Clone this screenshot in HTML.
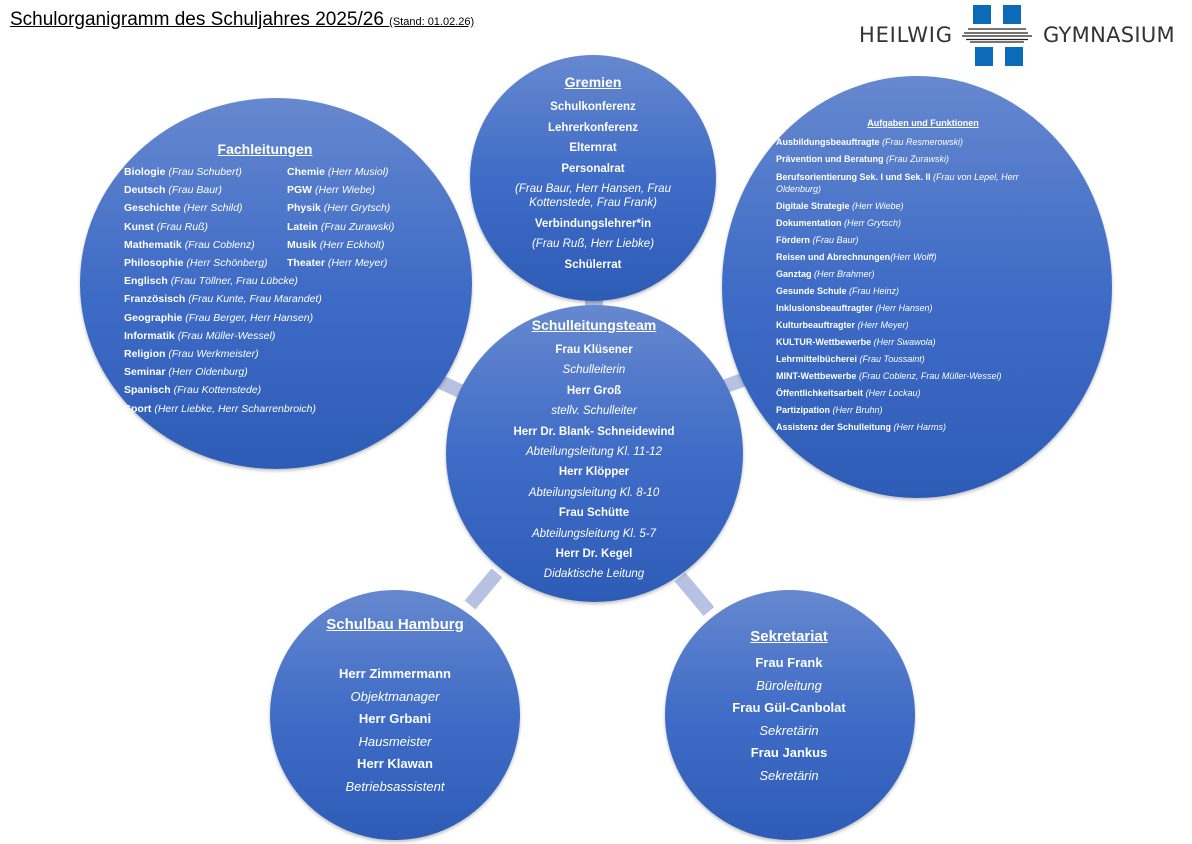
<!DOCTYPE html>
<html><head><meta charset="utf-8"><style>
body{margin:0;width:1192px;height:844px;background:#fff;position:relative;overflow:hidden;font-family:"Liberation Sans Narrow","Liberation Sans",sans-serif;}
.c{position:absolute;border-radius:50%;background:linear-gradient(180deg,#6688cf 0%,#3f6cc6 50%,#2d5cb7 100%);box-shadow:0 2px 3px rgba(0,0,0,.25);}
.t{position:absolute;color:#fff;font-weight:bold;white-space:nowrap;}
.t i{font-weight:normal;}
.ctr{text-align:center;transform:translateX(-50%);}
.u{text-decoration:underline;}
.bar{position:absolute;height:14px;background:#b7c2e2;transform-origin:0 50%;}
</style></head><body>
<div style="position:absolute;left:10px;top:9px;font-family:'Liberation Sans',sans-serif;font-size:19px;text-decoration:underline;color:#000;white-space:nowrap">Schulorganigramm des Schuljahres 2025/26 <span style="font-size:11px">(Stand: 01.02.26)</span></div>
<!-- logo -->
<div style="position:absolute;left:859px;top:23px;font-family:'DejaVu Sans','Liberation Sans',sans-serif;font-size:21px;color:#333;letter-spacing:0.8px">HEILWIG</div>
<div style="position:absolute;left:1043px;top:23px;font-family:'DejaVu Sans','Liberation Sans',sans-serif;font-size:21px;color:#333;letter-spacing:0.3px">GYMNASIUM</div>
<div style="position:absolute;left:973px;top:5px;width:18px;height:19px;background:#0b6bb8"></div>
<div style="position:absolute;left:1003px;top:5px;width:18px;height:19px;background:#0b6bb8"></div>
<div style="position:absolute;left:975px;top:47px;width:18px;height:19px;background:#0b6bb8"></div>
<div style="position:absolute;left:1005px;top:47px;width:18px;height:19px;background:#0b6bb8"></div>
<svg style="position:absolute;left:962px;top:27px" width="72" height="16"><g stroke="#222" stroke-width="1.3"><line x1="6" y1="2" x2="64" y2="2"/><line x1="2" y1="6" x2="66" y2="6"/><line x1="0" y1="9" x2="70" y2="9"/><line x1="4" y1="12.5" x2="66" y2="12.5"/><line x1="8" y1="15" x2="62" y2="15"/></g></svg>
<!-- connectors -->
<div style="position:absolute;left:585px;top:292px;width:18px;height:22px;background:#b7c2e2"></div>
<div class="bar" style="left:430px;top:370px;width:40px;transform:rotate(25deg)"></div>
<div class="bar" style="left:715px;top:383px;width:50px;transform:rotate(-20deg)"></div>
<div class="bar" style="left:470px;top:598px;width:42px;transform:rotate(-50deg)"></div>
<div class="bar" style="left:680px;top:570px;width:45px;transform:rotate(50deg)"></div>
<!-- circles -->
<div class="c" style="left:80px;top:98px;width:392px;height:371px"></div>
<div class="c" style="left:470px;top:55px;width:246px;height:246px"></div>
<div class="c" style="left:722px;top:76px;width:390px;height:422px"></div>
<div class="c" style="left:446px;top:305px;width:297px;height:297px"></div>
<div class="c" style="left:270px;top:590px;width:250px;height:250px"></div>
<div class="c" style="left:665px;top:590px;width:250px;height:250px"></div>
<!-- Fachleitungen -->
<div class="t ctr u" style="left:265px;top:141px;font-size:14px">Fachleitungen</div>
<div class="t" style="left:124px;top:163px;font-size:10.5px;line-height:18.2px">Biologie <i>(Frau Schubert)</i><br>Deutsch <i>(Frau Baur)</i><br>Geschichte <i>(Herr Schild)</i><br>Kunst <i>(Frau Ruß)</i><br>Mathematik <i>(Frau Coblenz)</i><br>Philosophie <i>(Herr Schönberg)</i><br>Englisch <i>(Frau Töllner, Frau Lübcke)</i><br>Französisch <i>(Frau Kunte, Frau Marandet)</i><br>Geographie <i>(Frau Berger, Herr Hansen)</i><br>Informatik <i>(Frau Müller-Wessel)</i><br>Religion <i>(Frau Werkmeister)</i><br>Seminar <i>(Herr Oldenburg)</i><br>Spanisch <i>(Frau Kottenstede)</i><br>Sport <i>(Herr Liebke, Herr Scharrenbroich)</i></div>
<div class="t" style="left:287px;top:163px;font-size:10.5px;line-height:18.2px">Chemie <i>(Herr Musiol)</i><br>PGW <i>(Herr Wiebe)</i><br>Physik <i>(Herr Grytsch)</i><br>Latein <i>(Frau Zurawski)</i><br>Musik <i>(Herr Eckholt)</i><br>Theater <i>(Herr Meyer)</i></div>
<!-- Gremien -->
<div class="t ctr u" style="left:593px;top:74px;font-size:14px">Gremien</div>
<div class="t ctr" style="left:593px;top:97px;font-size:11.5px;line-height:20.5px">Schulkonferenz<br>Lehrerkonferenz<br>Elternrat<br>Personalrat<br><span style="display:inline-block;line-height:14px;margin:3px 0"><i>(Frau Baur, Herr Hansen, Frau<br>Kottenstede, Frau Frank)</i></span><br>Verbindungslehrer*in<br><i>(Frau Ruß, Herr Liebke)</i><br>Schülerrat</div>
<!-- Aufgaben -->
<div class="t ctr u" style="left:923px;top:118px;font-size:9px">Aufgaben und Funktionen</div>
<div class="t" style="left:776px;top:134px;font-size:9px;line-height:17px">Ausbildungsbeauftragte <i>(Frau Resmerowski)</i><br>Prävention und Beratung <i>(Frau Zurawski)</i><br><span style="display:inline-block;line-height:12px;margin-top:3px">Berufsorientierung Sek. I und Sek. II <i>(Frau von Lepel, Herr<br>Oldenburg)</i></span><br>Digitale Strategie <i>(Herr Wiebe)</i><br>Dokumentation <i>(Herr Grytsch)</i><br>Fördern <i>(Frau Baur)</i><br>Reisen und Abrechnungen<i>(Herr Wolff)</i><br>Ganztag <i>(Herr Brahmer)</i><br>Gesunde Schule <i>(Frau Heinz)</i><br>Inklusionsbeauftragter <i>(Herr Hansen)</i><br>Kulturbeauftragter <i>(Herr Meyer)</i><br>KULTUR-Wettbewerbe <i>(Herr Swawola)</i><br>Lehrmittelbücherei <i>(Frau Toussaint)</i><br>MINT-Wettbewerbe <i>(Frau Coblenz, Frau Müller-Wessel)</i><br>Öffentlichkeitsarbeit <i>(Herr Lockau)</i><br>Partizipation <i>(Herr Bruhn)</i><br>Assistenz der Schulleitung <i>(Herr Harms)</i></div>
<!-- Schulleitung -->
<div class="t ctr u" style="left:594px;top:317px;font-size:14px">Schulleitungsteam</div>
<div class="t ctr" style="left:594px;top:340px;font-size:11.5px;line-height:20.4px">Frau Klüsener<br><i>Schulleiterin</i><br>Herr Groß<br><i>stellv. Schulleiter</i><br>Herr Dr. Blank- Schneidewind<br><i>Abteilungsleitung Kl. 11-12</i><br>Herr Klöpper<br><i>Abteilungsleitung Kl. 8-10</i><br>Frau Schütte<br><i>Abteilungsleitung Kl. 5-7</i><br>Herr Dr. Kegel<br><i>Didaktische Leitung</i></div>
<!-- Schulbau -->
<div class="t ctr u" style="left:395px;top:616px;font-size:15px">Schulbau Hamburg</div>
<div class="t ctr" style="left:395px;top:663px;font-size:13px;line-height:22.6px">Herr Zimmermann<br><i>Objektmanager</i><br>Herr Grbani<br><i>Hausmeister</i><br>Herr Klawan<br><i>Betriebsassistent</i></div>
<!-- Sekretariat -->
<div class="t ctr u" style="left:789px;top:628px;font-size:15px">Sekretariat</div>
<div class="t ctr" style="left:789px;top:652px;font-size:13px;line-height:22.6px">Frau Frank<br><i>Büroleitung</i><br>Frau Gül-Canbolat<br><i>Sekretärin</i><br>Frau Jankus<br><i>Sekretärin</i></div>
</body></html>
